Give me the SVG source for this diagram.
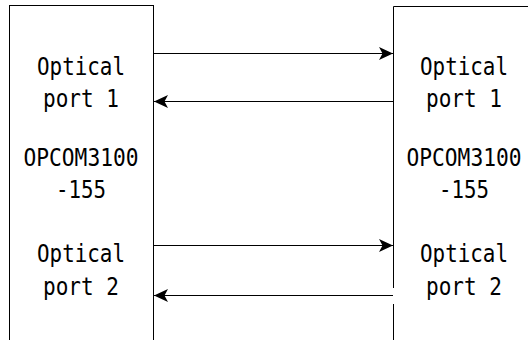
<svg xmlns="http://www.w3.org/2000/svg" width="528" height="340" viewBox="0 0 528 340">
<style>
.box{fill:#fff;stroke:#000;stroke-width:1}
.t{font-family:"DejaVu Sans Mono","Liberation Mono",monospace;font-size:24px;fill:#000;text-anchor:middle}
.c{stroke:#000;stroke-width:1;fill:none}
</style>
<defs>
<marker id="ah" markerWidth="14" markerHeight="14" viewBox="0 0 14 13" refX="14" refY="6.5" markerUnits="userSpaceOnUse" orient="auto">
<path d="M0,0 L14,6.5 L0,13 L3.5,6.5 Z" fill="#000"/>
</marker>
</defs>
<g id="left">
<rect class="box" x="9.5" y="5.5" width="144" height="340"/>
<text class="t" x="81" y="75" textLength="88" lengthAdjust="spacingAndGlyphs">Optical</text>
<text class="t" x="81" y="107" textLength="76" lengthAdjust="spacingAndGlyphs">port 1</text>
<text class="t" x="81" y="166" textLength="115" lengthAdjust="spacingAndGlyphs">OPCOM3100</text>
<text class="t" x="81" y="198" textLength="50" lengthAdjust="spacingAndGlyphs">-155</text>
<text class="t" x="81" y="262" textLength="88" lengthAdjust="spacingAndGlyphs">Optical</text>
<text class="t" x="81" y="295" textLength="76" lengthAdjust="spacingAndGlyphs">port 2</text>
</g>
<g id="right">
<path class="c" d="M393.5,288 V6.5 H540 M393.5,304 V340"/>
<text class="t" x="464" y="75" textLength="88" lengthAdjust="spacingAndGlyphs">Optical</text>
<text class="t" x="464" y="107" textLength="76" lengthAdjust="spacingAndGlyphs">port 1</text>
<text class="t" x="464" y="166" textLength="115" lengthAdjust="spacingAndGlyphs">OPCOM3100</text>
<text class="t" x="464" y="198" textLength="50" lengthAdjust="spacingAndGlyphs">-155</text>
<text class="t" x="464" y="262" textLength="88" lengthAdjust="spacingAndGlyphs">Optical</text>
<text class="t" x="464" y="295" textLength="76" lengthAdjust="spacingAndGlyphs">port 2</text>
</g>
<g id="connectors">
<line class="c" x1="153.5" y1="53.5" x2="393" y2="53.5" marker-end="url(#ah)"/>
<line class="c" x1="393" y1="101.5" x2="154" y2="101.5" marker-end="url(#ah)"/>
<line class="c" x1="153.5" y1="245.5" x2="393" y2="245.5" marker-end="url(#ah)"/>
<line class="c" x1="393" y1="295.5" x2="154" y2="295.5" marker-end="url(#ah)"/>
</g>
</svg>
